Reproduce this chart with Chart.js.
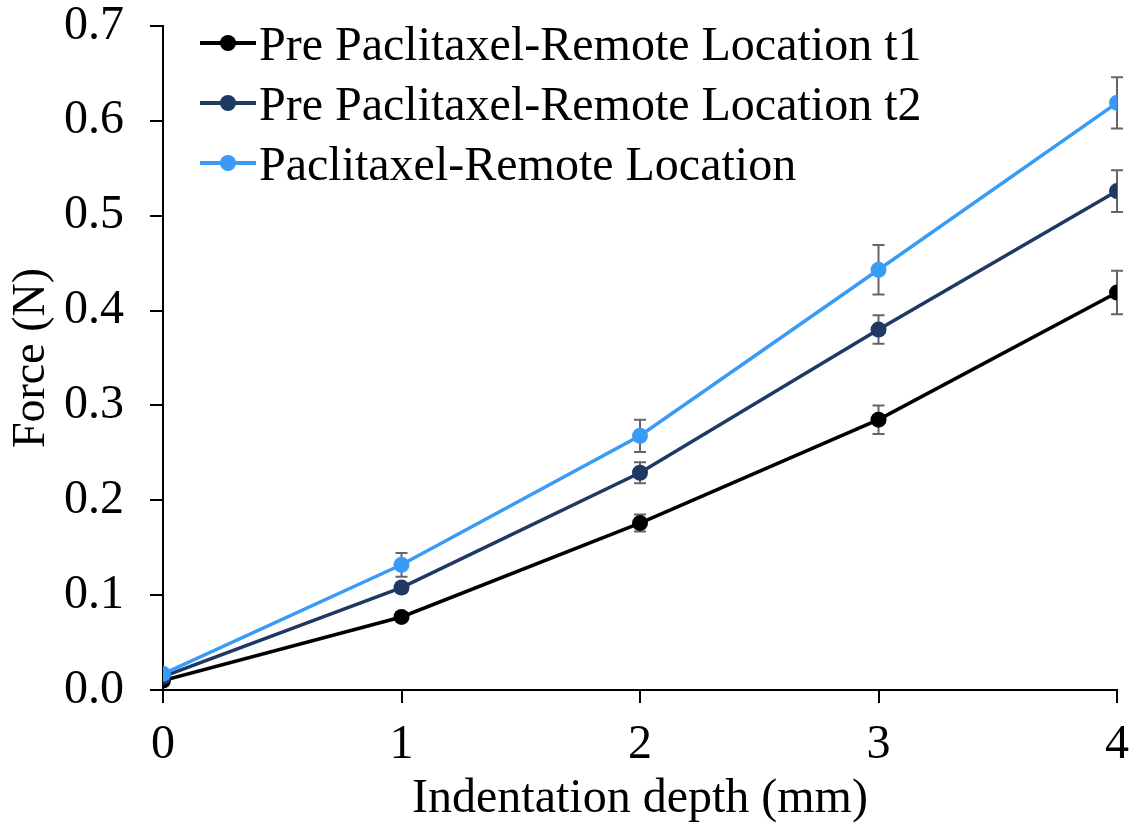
<!DOCTYPE html>
<html lang="en">
<head>
  <meta charset="UTF-8">
  <title>Force vs Indentation depth</title>
  <style>
    body {
      margin: 0;
      padding: 0;
      background: #fff;
      font-family: "Liberation Serif", "Times New Roman", serif;
    }
    .wrap {
      position: relative;
      width: 1142px;
      height: 828px;
    }
    .legend {
      position: absolute;
      left: 200px;
      top: 13px;
      font-size: 48px;
      color: #000;
    }
    .legend .row {
      display: flex;
      align-items: center;
      height: 60px;
    }
    .legend .mark {
      position: relative;
      width: 56px;
      height: 20px;
      margin-right: 3px;
    }
    .legend .mark .ln {
      position: absolute;
      left: 0; right: 0;
      top: 8px;
      height: 4px;
    }
    .legend .mark .dot {
      position: absolute;
      left: 20px;
      top: 2px;
      width: 16px;
      height: 16px;
      border-radius: 50%;
    }
  </style>
</head>
<body>
  <div class="wrap">
    <canvas id="forceChart" width="1142" height="828"></canvas>
    <div class="legend" id="legend"></div>
  </div>

  <script src="https://cdn.jsdelivr.net/npm/chart.js"></script>
  <script>
    // data
    const depth = [0, 1, 2, 3, 4];
    const seriesNames = [
      'Pre Paclitaxel-Remote Location t1',
      'Pre Paclitaxel-Remote Location t2',
      'Paclitaxel-Remote Location'
    ];
    const preT1 = [0.010, 0.077, 0.176, 0.285, 0.419];
    const preT2 = [0.014, 0.108, 0.229, 0.380, 0.526];
    const post = [0.017, 0.132, 0.268, 0.443, 0.619];
    const preT1Err = [0, 0.004, 0.009, 0.015, 0.023];
    const preT2Err = [0, 0.005, 0.011, 0.015, 0.022];
    const postErr = [0, 0.0125, 0.017, 0.026, 0.027];
    const colors = ['#000000', '#1F3864', '#3A9BF7'];

    const FONT = '"Liberation Serif", "Times New Roman", serif';

    function pts(values) {
      return depth.map((d, i) => ({ x: d, y: values[i] }));
    }

    // error bars, drawn behind the points
    const errorBars = {
      id: 'errorBars',
      beforeDatasetsDraw(chart) {
        const ctx = chart.ctx;
        const xs = chart.scales.x, ys = chart.scales.y;
        ctx.save();
        ctx.strokeStyle = '#666666';
        ctx.lineWidth = 2;
        chart.data.datasets.forEach(ds => {
          ds.data.forEach((p, i) => {
            const e = ds.err[i];
            if (!e) return;
            const px = xs.getPixelForValue(p.x);
            const top = ys.getPixelForValue(p.y + e);
            const bot = ys.getPixelForValue(p.y - e);
            ctx.beginPath();
            ctx.moveTo(px, top); ctx.lineTo(px, bot);
            ctx.moveTo(px - 6, top); ctx.lineTo(px + 6, top);
            ctx.moveTo(px - 6, bot); ctx.lineTo(px + 6, bot);
            ctx.stroke();
          });
        });
        ctx.restore();
      }
    };

    const values = [preT1, preT2, post];
    const errs = [preT1Err, preT2Err, postErr];

    const ctx = document.getElementById('forceChart').getContext('2d');
    const forceChart = new Chart(ctx, {
      type: 'line',
      data: {
        datasets: seriesNames.map((name, k) => ({
          label: name,
          data: pts(values[k]),
          err: errs[k],
          borderColor: colors[k],
          backgroundColor: colors[k],
          borderWidth: 3.5,
          pointRadius: 8,
          pointBorderWidth: 0,
          pointHoverRadius: 8,
          tension: 0,
          order: 3 - k
        }))
      },
      options: {
        responsive: false,
        animation: false,
        layout: { padding: { left: 4, right: 25, top: 26, bottom: 0 } },
        plugins: {
          legend: { display: false },
          tooltip: { enabled: false }
        },
        scales: {
          x: {
            type: 'linear',
            min: 0,
            max: 4,
            afterFit(s) { s.height = 138; s.paddingLeft = 0; s.paddingRight = 0; },
            ticks: {
              stepSize: 1,
              color: '#000',
              padding: 14,
              font: { family: FONT, size: 48 }
            },
            grid: {
              drawOnChartArea: false,
              drawTicks: true,
              tickLength: 13,
              color: '#000',
              lineWidth: 2
            },
            border: { display: true, color: '#000', width: 2 },
            title: {
              display: true,
              text: 'Indentation depth (mm)',
              color: '#000',
              padding: { top: 0, bottom: 0 },
              font: { family: FONT, size: 48 }
            }
          },
          y: {
            min: 0,
            max: 0.7,
            afterFit(s) { s.width = 159; s.paddingTop = 0; s.paddingBottom = 0; },
            ticks: {
              stepSize: 0.1,
              color: '#000',
              padding: 26,
              font: { family: FONT, size: 48 },
              callback: v => v.toFixed(1)
            },
            grid: {
              drawOnChartArea: false,
              drawTicks: true,
              tickLength: 13,
              color: '#000',
              lineWidth: 2
            },
            border: { display: true, color: '#000', width: 2 },
            title: {
              display: true,
              text: 'Force (N)',
              color: '#000',
              padding: { top: 0, bottom: 0 },
              font: { family: FONT, size: 46 }
            }
          }
        }
      },
      plugins: [errorBars]
    });

    // legend overlay inside the plot
    const legend = document.getElementById('legend');
    seriesNames.forEach((name, k) => {
      const row = document.createElement('div');
      row.className = 'row';
      row.innerHTML = '<span class="mark"><span class="ln" style="background:' + colors[k] +
        '"></span><span class="dot" style="background:' + colors[k] + '"></span></span>' +
        '<span>' + name + '</span>';
      legend.appendChild(row);
    });
  </script>
</body>
</html>
